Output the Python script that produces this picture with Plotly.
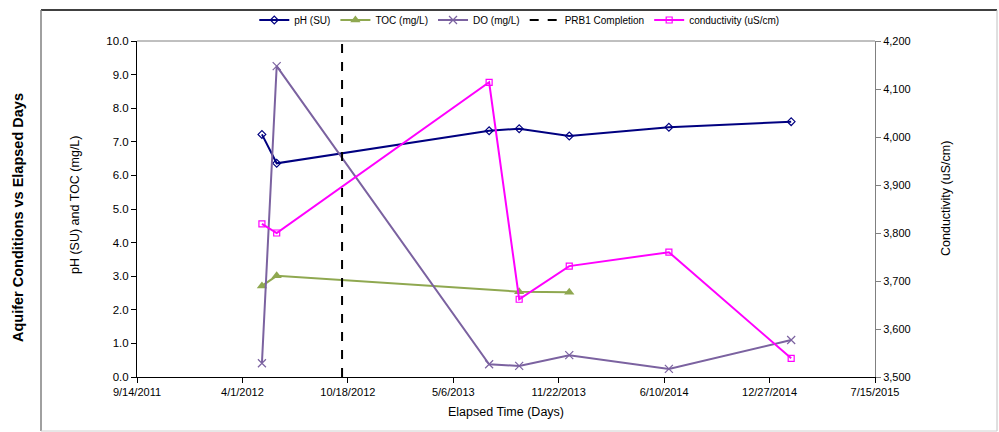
import plotly.graph_objects as go

# ---- data ----
dates = ["2012-05-08", "2012-06-05", "2013-07-13", "2013-09-08",
         "2013-12-12", "2014-06-19", "2015-02-06"]
ph = [7.22, 6.36, 7.33, 7.39, 7.17, 7.43, 7.60]
toc_dates = ["2012-05-08", "2012-06-05", "2013-09-08", "2013-12-12"]
toc = [2.71, 3.01, 2.54, 2.52]
do = [0.41, 9.25, 0.38, 0.33, 0.65, 0.24, 1.10]
conductivity = [3819, 3800, 4114, 3662, 3731, 3760, 3539]
prb1_date = "2012-10-07"
prb1_y = [0, 10]

tick_dates = ["2011-09-14", "2012-04-01", "2012-10-18", "2013-05-06",
              "2013-11-22", "2014-06-10", "2014-12-27", "2015-07-15"]
tick_labels = ["9/14/2011", "4/1/2012", "10/18/2012", "5/6/2013",
               "11/22/2013", "6/10/2014", "12/27/2014", "7/15/2015"]
y1_ticks = [0, 1, 2, 3, 4, 5, 6, 7, 8, 9, 10]
y2_ticks = [3500, 3600, 3700, 3800, 3900, 4000, 4100, 4200]

FONT = "Liberation Sans, Arial, sans-serif"

fig = go.Figure()
fig.add_trace(go.Scatter(x=dates, y=ph, name="pH (SU)", mode="lines+markers",
                         line=dict(color="#000080", width=2),
                         marker=dict(symbol="diamond-open", size=6, color="#000080",
                                     line=dict(width=1.2))))
fig.add_trace(go.Scatter(x=toc_dates, y=toc, name="TOC (mg/L)", mode="lines+markers",
                         line=dict(color="#8FA850", width=2),
                         marker=dict(symbol="triangle-up", size=9, color="#8FA850")))
fig.add_trace(go.Scatter(x=dates, y=do, name="DO (mg/L)", mode="lines+markers",
                         line=dict(color="#7B62A0", width=2),
                         marker=dict(symbol="x-thin-open", size=8, color="#7B62A0",
                                     line=dict(width=1.2, color="#7B62A0"))))
fig.add_trace(go.Scatter(x=[prb1_date, prb1_date], y=prb1_y, name="PRB1 Completion",
                         mode="lines", line=dict(color="black", width=2, dash="dash")))
fig.add_trace(go.Scatter(x=dates, y=conductivity, name="conductivity (uS/cm)",
                         mode="lines+markers", yaxis="y2",
                         line=dict(color="#FF00FF", width=2),
                         marker=dict(symbol="square-open", size=6, color="#FF00FF",
                                     line=dict(width=1.2))))

x0 = -96 / 738
x1 = 860 / 738
y0 = -54 / 336
y1 = 367 / 336
shapes = [
    dict(type="line", xref="paper", yref="paper", x0=x0, x1=x1, y0=y1, y1=y1,
         line=dict(color="#404040", width=2)),
    dict(type="line", xref="paper", yref="paper", x0=x0, x1=x0, y0=y0, y1=y1,
         line=dict(color="#808080", width=1.5)),
    dict(type="line", xref="paper", yref="paper", x0=x1, x1=x1, y0=y0, y1=y1,
         line=dict(color="#C0C0C0", width=1)),
    dict(type="line", xref="paper", yref="paper", x0=x0, x1=x1, y0=y0, y1=y0,
         line=dict(color="#D0D0D0", width=1)),
    dict(type="line", xref="paper", yref="paper", x0=0, x1=1, y0=1, y1=1,
         line=dict(color="#808080", width=1)),
]

fig.update_layout(
    width=999, height=432,
    margin=dict(l=137, r=124, t=41, b=55, autoexpand=False),
    paper_bgcolor="white", plot_bgcolor="white",
    font=dict(family=FONT, size=11, color="black"),
    showlegend=True,
    legend=dict(orientation="h", x=0.518, xanchor="center", y=1.0625, yanchor="middle",
                font=dict(size=10), itemwidth=30, bgcolor="rgba(0,0,0,0)"),
    xaxis=dict(type="date", range=["2011-09-14", "2015-07-15"],
               tickvals=tick_dates, ticktext=tick_labels,
               showgrid=False, zeroline=False, showline=True, linecolor="black",
               linewidth=1, ticks="outside", ticklen=5, tickcolor="black",
               tickfont=dict(size=11)),
    yaxis=dict(range=[0, 10], tickvals=y1_ticks, tickformat=".1f",
               showgrid=False, zeroline=False, showline=True, linecolor="black",
               linewidth=1, ticks="outside", ticklen=5, tickcolor="black",
               tickfont=dict(size=11.5)),
    yaxis2=dict(range=[3500, 4200], tickvals=y2_ticks, tickformat=",",
                overlaying="y", side="right",
                showgrid=False, zeroline=False, showline=True, linecolor="#808080",
                linewidth=1, ticks="outside", ticklen=5, tickcolor="#808080",
                tickfont=dict(size=11)),
    shapes=shapes,
    annotations=[
        dict(text="<b>Aquifer Conditions vs Elapsed Days</b>", xref="paper", yref="paper",
             x=(18 - 137) / 738, y=(377 - 218) / 336, textangle=-90, showarrow=False,
             font=dict(size=14.5, family=FONT, color="black"), xanchor="center",
             yanchor="middle"),
        dict(text="pH (SU) and TOC (mg/L)", xref="paper", yref="paper",
             x=(75 - 137) / 738, y=(377 - 205) / 336, textangle=-90, showarrow=False,
             font=dict(size=12.5), xanchor="center", yanchor="middle"),
        dict(text="Conductivity (uS/cm)", xref="paper", yref="paper",
             x=(946 - 137) / 738, y=(377 - 198) / 336, textangle=-90, showarrow=False,
             font=dict(size=12.5), xanchor="center", yanchor="middle"),
        dict(text="Elapsed Time (Days)", xref="paper", yref="paper",
             x=(506 - 137) / 738, y=(377 - 412) / 336, showarrow=False,
             font=dict(size=12.5), xanchor="center", yanchor="middle"),
    ],
)

fig.write_html("out.html", config={"displayModeBar": False},
               post_script="document.body.style.margin='0';")
